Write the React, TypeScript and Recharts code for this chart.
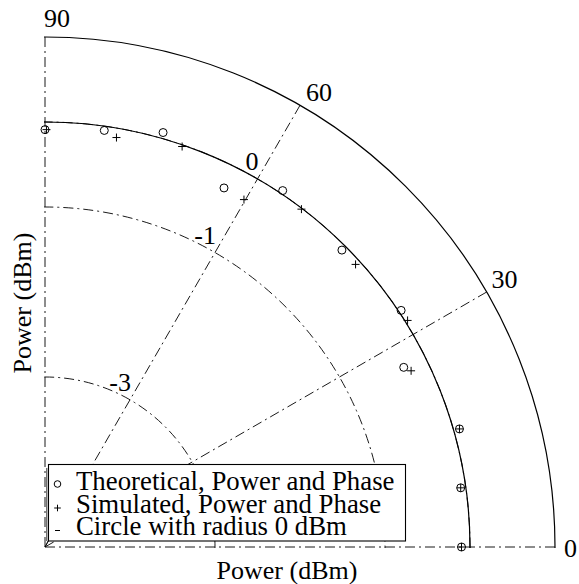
import React from "react";
import { RadarChart, Radar, PolarGrid, PolarAngleAxis, PolarRadiusAxis } from "recharts";

// Theoretical points: phase angle (deg) and power (dBm)
const THEO_ANGLE = [0, 8.1, 15.9, 26.6, 33.6, 45.0, 56.3, 63.5, 74.1, 81.9, 90];
const THEO_POWER = [-0.1, -0.06, 0.07, -0.28, 0.03, -0.06, 0.04, -0.28, 0.07, -0.05, -0.09];

// Simulated points
const SIM_ANGLE = [0, 8.1, 15.9, 25.7, 32.0, 42.3, 52.8, 60.2, 71.1, 80.1, 89.8];
const SIM_POWER = [-0.1, -0.06, 0.07, -0.22, 0.03, -0.06, -0.01, -0.29, -0.02, -0.11, -0.09];

const ANGLE_TICKS = [0, 30, 60, 90];
const RADIUS_TICKS = [-3, -1, 0];
const SOLID_RADII = [0, 1]; // 0 dBm reference circle + outer rim
const RADIUS_DOMAIN = [-5, 1];

const LEGEND_LABELS = [
  "Theoretical, Power and Phase",
  "Simulated, Power and Phase",
  "Circle with radius 0 dBm",
];

const rows = [
  ...THEO_ANGLE.map((a, i) => ({ angle: a, theo: THEO_POWER[i], sim: null })),
  ...SIM_ANGLE.map((a, i) => ({ angle: a, theo: null, sim: SIM_POWER[i] })),
];

const W = 579;
const H = 584;
const CX = 45;
const CY = 547;
const R = 510;
const FONT = '"Liberation Serif", "Times New Roman", serif';
const FS = 26;
const DASH_DOT = "10 4 2 4";

// label nudges for the angle ticks (dx, dy), relative to recharts' tick point
const ANGLE_NUDGE: Record<number, [number, number]> = {
  0: [1, 10],
  30: [-2, 0],
  60: [2, 3],
  90: [-1, -2],
};

const renderAngleTick = (p: any) => {
  const v = p.payload.value;
  const [dx, dy] = ANGLE_NUDGE[v] || [0, 0];
  return (
    <text key={`a-${v}`} x={p.x + dx} y={p.y + dy} textAnchor="start" fontFamily={FONT} fontSize={FS} fill="#000">
      {v}
    </text>
  );
};

const renderRadiusTick = (p: any) => (
  <text key={`r-${p.payload.value}`} x={p.x + 1} y={p.y - 9} textAnchor="end" fontFamily={FONT} fontSize={FS} fill="#000">
    {String(p.payload.value)}
  </text>
);

// skip the empty rows (null values land on the origin otherwise)
const ok = (p: any) => {
  const row = p.payload?.payload ?? p.payload;
  const v = row && p.dataKey ? row[p.dataKey] : p.value;
  return v != null && Number.isFinite(p.cx) && Number.isFinite(p.cy);
};

const renderCircle = (p: any) =>
  ok(p) ? (
    <circle key={p.key ?? p.index} cx={p.cx} cy={p.cy} r={4} fill="none" stroke="#000" strokeWidth={1} />
  ) : (
    <g key={p.key ?? p.index} />
  );

const renderPlus = (p: any) =>
  ok(p) ? (
    <path
      key={p.key ?? p.index}
      d={`M${p.cx - 4},${p.cy}H${p.cx + 4}M${p.cx},${p.cy - 4}V${p.cy + 4}`}
      stroke="#000"
      strokeWidth={1}
      fill="none"
    />
  ) : (
    <g key={p.key ?? p.index} />
  );

export default function App() {
  return (
    <div style={{ position: "absolute", left: 0, top: 0, width: W, height: H, background: "#fff" }}>
      <style>{`.recharts-polar-grid-concentric circle, .recharts-polar-grid-concentric path { clip-path: url(#quarter); }`}</style>
      <svg width={0} height={0} style={{ position: "absolute" }}>
        <defs>
          <clipPath id="quarter" clipPathUnits="userSpaceOnUse">
            <rect x={CX - 1} y={CY - R - 3} width={R + 4} height={R + 4} />
          </clipPath>
        </defs>
      </svg>
      <RadarChart
        width={W}
        height={H}
        data={rows}
        cx={CX}
        cy={CY}
        innerRadius={0}
        outerRadius={R}
        startAngle={0}
        endAngle={90}
        margin={{ top: 0, right: 0, bottom: 0, left: 0 }}
      >
        <PolarGrid gridType="circle" stroke="#000" strokeWidth={0.9} strokeDasharray={DASH_DOT} />
        <PolarGrid gridType="circle" radiusAxisId="solid" radialLines={false} stroke="#000" strokeWidth={1.2} />
        <PolarAngleAxis
          dataKey="angle"
          type="number"
          domain={[0, 90]}
          ticks={ANGLE_TICKS}
          axisLine={false}
          tickLine={false}
          tick={renderAngleTick}
        />
        <PolarRadiusAxis
          type="number"
          domain={RADIUS_DOMAIN}
          ticks={RADIUS_TICKS}
          angle={60}
          axisLine={false}
          tick={renderRadiusTick}
          allowDataOverflow
        />
        <PolarRadiusAxis
          radiusAxisId="solid"
          type="number"
          domain={RADIUS_DOMAIN}
          ticks={SOLID_RADII}
          angle={60}
          axisLine={false}
          tick={false}
          allowDataOverflow
        />
        <Radar dataKey="theo" name={LEGEND_LABELS[0]} fill="none" stroke="none" dot={renderCircle} isAnimationActive={false} />
        <Radar dataKey="sim" name={LEGEND_LABELS[1]} fill="none" stroke="none" dot={renderPlus} isAnimationActive={false} />
      </RadarChart>

      <svg width={W} height={H} style={{ position: "absolute", left: 0, top: 0, pointerEvents: "none" }}>
        {/* legend box with its little 3d edge */}
        <line x1={46.8} y1={468} x2={46.8} y2={541} stroke="#000" strokeWidth={0.8} />
        <line x1={48} y1={541} x2={45} y2={547} stroke="#000" strokeWidth={0.8} />
        <rect x={48.5} y={464.5} width={357} height={76.5} fill="#fff" stroke="#000" strokeWidth={1.1} />
        <circle cx={57.5} cy={484} r={3.3} fill="none" stroke="#000" strokeWidth={1} />
        <path d="M54.2,508H60.8M57.5,504.7V511.3" stroke="#000" strokeWidth={1} />
        <path d="M55,530.5H60" stroke="#000" strokeWidth={1} />
        {LEGEND_LABELS.map((t, i) => (
          <text key={t} x={76} y={490 + i * 22.5} fontFamily={FONT} fontSize={26.8} fill="#000">
            {t}
          </text>
        ))}
        <text x={287} y={579} textAnchor="middle" fontFamily={FONT} fontSize={FS} fill="#000">
          Power (dBm)
        </text>
        <text transform="translate(31,303) rotate(-90)" textAnchor="middle" fontFamily={FONT} fontSize={FS} fill="#000">
          Power (dBm)
        </text>
      </svg>
    </div>
  );
}
